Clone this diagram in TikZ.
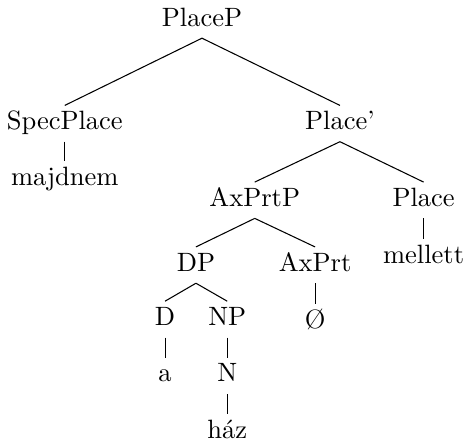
\documentclass[tikz,border=0pt]{standalone}
\usepackage{tikz}
\usetikzlibrary{positioning}

\tikzset{
  cat/.style={anchor=base, inner sep=2pt, text height=6.9pt, text depth=2.4pt}
}

\begin{document}
\begin{tikzpicture}
        \useasboundingbox (-2.679,0.345) rectangle (3.462,-5.544);

        % Categories, one level at a time
        \node[cat] (placep) at (0,0) {PlaceP};
        \node[cat] (specplace) at (-1.82,-1.373) {SpecPlace};
        \node[cat] (placebar) at (1.83,-1.373) {Place'};
        \node[cat] (majdnem) at (-1.82,-2.11) {majdnem};
        \node[cat] (axprtp) at (0.70,-2.39) {AxPrtP};
        \node[cat] (place) at (2.94,-2.39) {Place};
        \node[cat] (mellett) at (2.94,-3.15) {mellett};
        \node[cat] (dp) at (-0.08,-3.25) {DP};
        \node[cat] (axprt) at (1.50,-3.25) {AxPrt};
        \node[cat] (d) at (-0.49,-3.97) {D};
        \node[cat] (np) at (0.335,-3.97) {NP};
        \node[cat] (empty) at (1.50,-4.01) {Ø};
        \node[cat] (a) at (-0.49,-4.72) {a};
        \node[cat] (n) at (0.335,-4.72) {N};
        \node[cat] (haz) at (0.335,-5.47) {ház};

        % Branches
        \foreach \mother/\daughter in {placep/specplace, placep/placebar, specplace/majdnem,
            placebar/axprtp, placebar/place, place/mellett, axprtp/dp, axprtp/axprt,
            axprt/empty, dp/d, dp/np, d/a, np/n, n/haz} {
          \draw (\mother.south) -- (\daughter.north);
        }
      \end{tikzpicture}
\end{document}
